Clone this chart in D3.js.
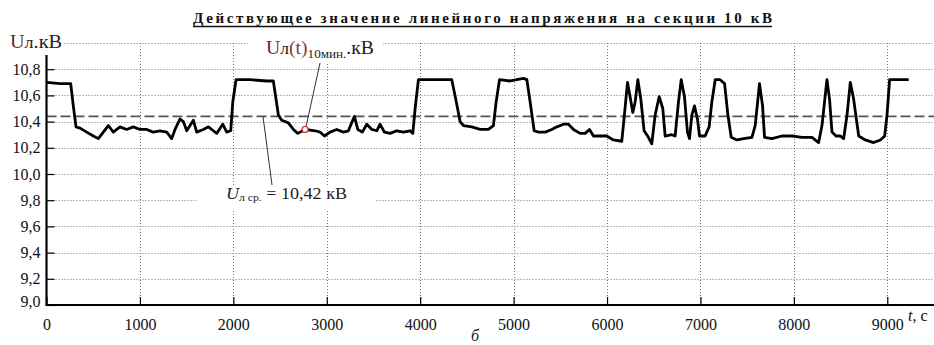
<!DOCTYPE html>
<html>
<head>
<meta charset="utf-8">
<script src="https://cdn.jsdelivr.net/npm/d3@7"></script>
<style>
  body { margin: 0; background: #fff; }
  svg { display: block; }
</style>
</head>
<body>
<svg id="chart" width="934" height="345" font-family="Liberation Serif"></svg>
<script>
// time, s
const times = [0,145,259,287,316,359,430,501,555,608,662,715,787,858,929,1001,1073,1143,1215,1287,
  1340,1376,1429,1465,1501,1572,1608,1679,1733,1786,1822,1886,1929,1972,1994,2029,2179,2358,2428,2482,
  2518,2589,2643,2690,2768,2875,2928,2975,3035,3107,3178,3232,3260,3296,3332,3381,3428,3482,3535,3571,
  3617,3678,3750,3820,3892,3921,3946,3981,4338,4381,4427,4463,4553,4642,4730,4784,4813,4849,4963,5035,
  5105,5142,5177,5220,5266,5338,5409,5463,5534,5587,5641,5712,5766,5812,5855,5926,5997,6068,6158,6186,
  6219,6247,6276,6301,6330,6362,6397,6443,6479,6515,6558,6597,6622,6693,6729,6765,6794,6829,6861,6883,
  6908,6936,6968,6990,7050,7093,7122,7158,7211,7258,7294,7329,7390,7461,7551,7586,7632,7665,7686,7765,
  7872,7979,8087,8194,8265,8301,8354,8382,8408,8451,8497,8533,8569,8604,8640,8694,8765,8854,8926,8972,
  8997,9025,9158,9229];
// line voltage, kV
const volts = [10.70,10.69,10.69,10.52,10.36,10.35,10.32,10.29,10.27,10.32,10.37,10.32,10.36,10.34,10.36,10.34,10.34,10.32,10.33,10.32,
  10.27,10.34,10.42,10.40,10.33,10.41,10.32,10.34,10.36,10.33,10.31,10.38,10.32,10.33,10.55,10.72,10.72,10.71,10.71,10.45,
  10.41,10.39,10.34,10.31,10.34,10.33,10.32,10.29,10.32,10.34,10.32,10.33,10.38,10.44,10.34,10.32,10.38,10.34,10.33,10.38,
  10.32,10.31,10.33,10.32,10.33,10.31,10.50,10.72,10.72,10.57,10.40,10.37,10.36,10.34,10.34,10.37,10.55,10.72,10.71,10.72,
  10.73,10.72,10.55,10.33,10.32,10.32,10.34,10.36,10.38,10.38,10.34,10.31,10.31,10.34,10.29,10.29,10.29,10.26,10.25,10.45,
  10.70,10.59,10.47,10.55,10.72,10.57,10.33,10.28,10.23,10.45,10.59,10.50,10.29,10.30,10.29,10.55,10.72,10.59,10.32,10.27,
  10.45,10.52,10.42,10.29,10.29,10.36,10.55,10.72,10.72,10.69,10.45,10.28,10.26,10.27,10.28,10.37,10.69,10.52,10.28,10.27,
  10.29,10.29,10.28,10.28,10.24,10.37,10.72,10.57,10.32,10.29,10.29,10.27,10.45,10.70,10.57,10.29,10.26,10.24,10.26,10.29,
  10.45,10.72,10.72,10.72];

const xTicks = [0,1000,2000,3000,4000,5000,6000,7000,8000,9000];
const yTicks = [9.0,9.2,9.4,9.6,9.8,10.0,10.2,10.4,10.6,10.8];
const yGridTop = 11.0;
const meanLine = 10.44;      // where the dashed line sits
const meanText = '10,42';    // value printed in the label
const markerTime = 2768;     // red point on the curve

const titleText = 'Действующее значение линейного напряжения на секции 10 кВ';

const svg = d3.select('#chart');
const W = 934, H = 345;
const serif = 'Liberation Serif';

const x = d3.scaleLinear().domain([0, 9500]).range([46.5, 934]);
const y = d3.scaleLinear().domain([9, 11]).range([305, 43]);

const fmt = v => v.toFixed(1).replace('.', ',');

// grid
const grid = svg.append('g')
  .attr('stroke', '#777').attr('stroke-width', 1).attr('stroke-dasharray', '1,2');
grid.selectAll('.hg').data(yTicks.slice(1).concat([yGridTop])).enter().append('line')
  .attr('x1', x(0)).attr('x2', W)
  .attr('y1', d => Math.round(y(d)) + 0.5).attr('y2', d => Math.round(y(d)) + 0.5);
grid.selectAll('.vg').data(xTicks.slice(1)).enter().append('line')
  .attr('x1', d => Math.round(x(d)) + 0.5).attr('x2', d => Math.round(x(d)) + 0.5)
  .attr('y1', y(yGridTop)).attr('y2', y(9));

// white backgrounds behind labels
svg.append('rect').attr('x', 0).attr('y', 30).attr('width', 63).attr('height', 22).attr('fill', '#fff');
svg.append('rect').attr('x', 248).attr('y', 30).attr('width', 135).attr('height', 34).attr('fill', '#fff');
svg.append('rect').attr('x', 197).attr('y', 186).attr('width', 179).attr('height', 23).attr('fill', '#fff');

// mean dashed line
svg.append('line')
  .attr('x1', x(0)).attr('x2', W)
  .attr('y1', y(meanLine)).attr('y2', y(meanLine))
  .attr('stroke', '#555').attr('stroke-width', 1.6).attr('stroke-dasharray', '10,4');

// axes
const xAxis = svg.append('g')
  .attr('transform', `translate(0,${y(9)})`)
  .call(d3.axisBottom(x).tickValues(xTicks).tickSize(-8).tickPadding(14).tickFormat(d3.format('d')));
xAxis.attr('font-family', serif);
xAxis.select('.domain').remove();
xAxis.selectAll('.tick line').attr('stroke', '#000').attr('stroke-width', 1.2);
xAxis.selectAll('.tick text').attr('font-size', 16).attr('fill', '#111').attr('font-family', serif);

const yAxis = svg.append('g')
  .attr('transform', `translate(${x(0)},0)`)
  .call(d3.axisLeft(y).tickValues(yTicks).tickSize(-8).tickPadding(6).tickFormat(fmt));
yAxis.attr('font-family', serif);
yAxis.select('.domain').remove();
yAxis.selectAll('.tick line').attr('stroke', '#000').attr('stroke-width', 1.2);
yAxis.selectAll('.tick text').attr('font-size', 16).attr('fill', '#111').attr('font-family', serif);
yAxis.selectAll('.tick').filter(d => d === 9.0).select('text').attr('dy', '0.1em');

svg.append('line').attr('x1', x(0)).attr('x2', W).attr('y1', y(9)).attr('y2', y(9))
  .attr('stroke', '#000').attr('stroke-width', 2.2);
svg.append('line').attr('x1', x(0)).attr('x2', x(0)).attr('y1', y(9) + 1).attr('y2', 55)
  .attr('stroke', '#000').attr('stroke-width', 2.2);

// series
const pts = times.map((t, i) => [t, volts[i]]);
const line = d3.line().x(d => x(d[0])).y(d => y(d[1]));
svg.append('path').datum(pts)
  .attr('d', line).attr('fill', 'none')
  .attr('stroke', '#000').attr('stroke-width', 2.8).attr('stroke-linejoin', 'round');

// marker and leaders
const mIdx = times.indexOf(markerTime);
const mx = x(times[mIdx]), my = y(volts[mIdx]);
svg.append('line').attr('x1', 320).attr('y1', 63).attr('x2', mx + 1).attr('y2', my - 3)
  .attr('stroke', '#333').attr('stroke-width', 1);
svg.append('circle').attr('cx', mx).attr('cy', my).attr('r', 3)
  .attr('fill', '#fff').attr('stroke', '#e03030').attr('stroke-width', 1.3);
svg.append('line').attr('x1', 263).attr('y1', y(meanLine)).attr('x2', 272).attr('y2', 185)
  .attr('stroke', '#333').attr('stroke-width', 1);

// title
svg.append('text').attr('x', 193).attr('y', 23).attr('font-family', serif)
  .attr('font-size', 15).attr('font-weight', 'bold').attr('fill', '#111')
  .attr('textLength', 579).attr('lengthAdjust', 'spacing')
  .text(titleText);
svg.append('line').attr('x1', 193).attr('x2', 772).attr('y1', 26.5).attr('y2', 26.5)
  .attr('stroke', '#111').attr('stroke-width', 1.3);

// y axis name
const yl = svg.append('text').attr('x', 10).attr('y', 48).attr('font-family', serif)
  .attr('font-size', 18).attr('fill', '#222')
  .attr('textLength', 52).attr('lengthAdjust', 'spacingAndGlyphs');
yl.append('tspan').attr('fill', '#6a1f1f').text('U');
yl.append('tspan').attr('font-size', 16).text('л');
yl.append('tspan').text('.кВ');

// curve label
const a1 = svg.append('text').attr('x', 266).attr('y', 54).attr('font-family', serif)
  .attr('font-size', 18).attr('fill', '#222')
  .attr('textLength', 108).attr('lengthAdjust', 'spacingAndGlyphs');
a1.append('tspan').attr('fill', '#7a2020').text('U');
a1.append('tspan').attr('font-size', 16).text('л');
a1.append('tspan').attr('fill', '#8a3a2a').text('(t)');
a1.append('tspan').attr('font-size', 12).attr('dy', 4).text('10мин.');
a1.append('tspan').attr('dy', -4).text('.кВ');

// mean label
const a2 = svg.append('text').attr('x', 226).attr('y', 199).attr('font-family', serif)
  .attr('font-size', 17).attr('fill', '#222')
  .attr('textLength', 121).attr('lengthAdjust', 'spacingAndGlyphs');
a2.append('tspan').attr('font-style', 'italic').text('U');
a2.append('tspan').attr('font-size', 11).attr('dy', 2).text('л ср.');
a2.append('tspan').attr('dy', -2).text(` = ${meanText} кВ`);

// axis name and figure letter
const tl = svg.append('text').attr('x', 908).attr('y', 321).attr('font-family', serif)
  .attr('font-size', 16).attr('fill', '#111');
tl.append('tspan').attr('font-style', 'italic').text('t');
tl.append('tspan').text(', с');

svg.append('text').attr('x', 471).attr('y', 341).attr('font-family', serif)
  .attr('font-size', 16).attr('font-style', 'italic').attr('fill', '#222').text('б');
</script>
</body>
</html>
